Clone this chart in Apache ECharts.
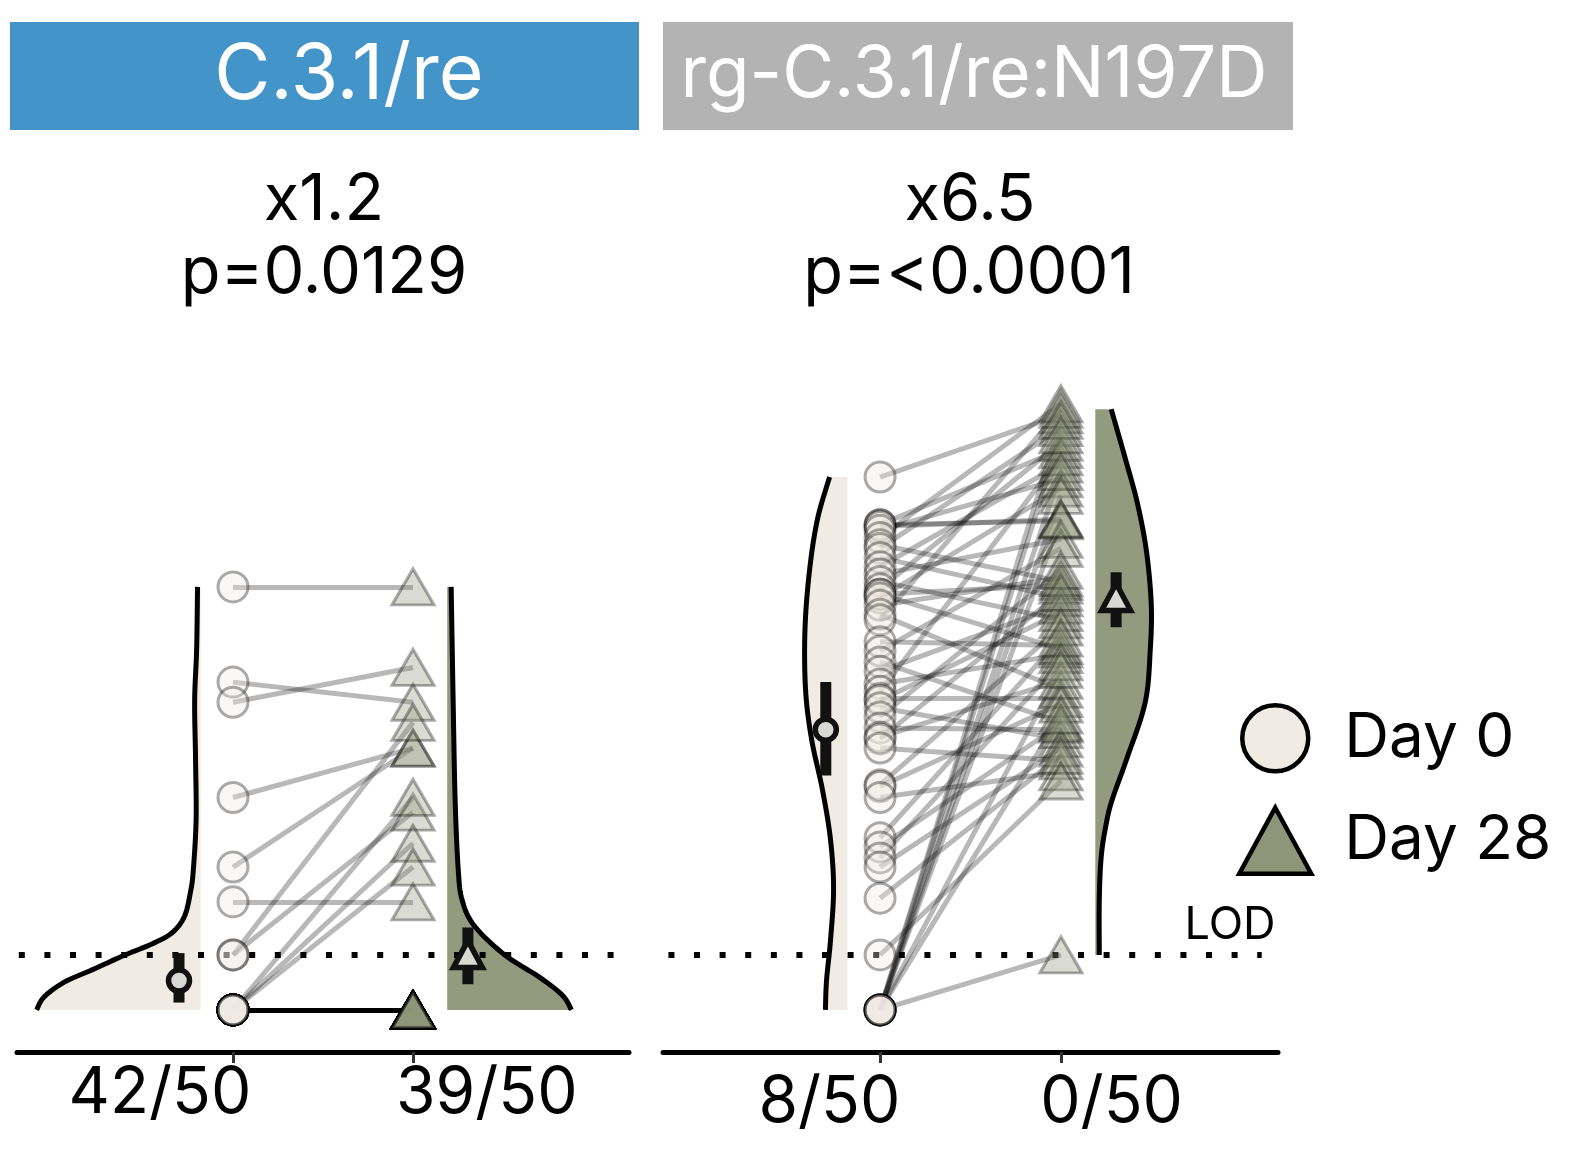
<!DOCTYPE html>
<html>
<head>
<meta charset="utf-8">
<script src="https://cdn.jsdelivr.net/npm/echarts@6/dist/echarts.min.js"></script>
<style>
html,body{margin:0;padding:0;background:#fff;overflow:hidden;}
#chart{width:1578px;height:1172px;}
</style>
</head>
<body>
<div id="chart"></div>
<script>
// ---------- DATA (log10 titer; 1.00 = below LOD, 1.30 = LOD) ----------
const LOD = 1.30;
const panelNames = ['C.3.1/re', 'rg-C.3.1/re:N197D'];
const foldChanges = ['x1.2', 'x6.5'];
const pValues = ['p=0.0129', 'p=<0.0001'];
const leftTickLabels = ['42/50', '39/50'];
const rightTickLabels = ['8/50', '0/50'];
const seriesNames = ['Day 0', 'Day 28'];

// paired samples, C.3.1/re
const leftDay0 = [3.31, 2.79, 2.68, 2.16, 1.78, 1.59, 1.30, 1.30, 1.00, 1.00, 1.00,
  1.00, 1.00, 1.00, 1.00, 1.00, 1.00, 1.00, 1.00, 1.00, 1.00,
  1.00, 1.00, 1.00, 1.00, 1.00, 1.00, 1.00, 1.00, 1.00, 1.00,
  1.00, 1.00, 1.00, 1.00, 1.00, 1.00, 1.00, 1.00, 1.00, 1.00,
  1.00, 1.00, 1.00, 1.00, 1.00, 1.00, 1.00, 1.00, 1.00];
const leftDay28 = [3.31, 2.68, 2.87, 2.43, 2.43, 1.59, 2.57, 2.08, 2.16, 1.91, 1.78,
  1.00, 1.00, 1.00, 1.00, 1.00, 1.00, 1.00, 1.00, 1.00, 1.00,
  1.00, 1.00, 1.00, 1.00, 1.00, 1.00, 1.00, 1.00, 1.00, 1.00,
  1.00, 1.00, 1.00, 1.00, 1.00, 1.00, 1.00, 1.00, 1.00, 1.00,
  1.00, 1.00, 1.00, 1.00, 1.00, 1.00, 1.00, 1.00, 1.00];

// paired samples, rg-C.3.1/re:N197D
const rightDay0 = [3.91, 3.65, 3.65, 3.64, 3.62, 3.58, 3.54, 3.52, 3.47, 3.42,
  3.38, 3.34, 3.30, 3.27, 3.27, 3.25, 3.21, 3.16, 3.13, 3.01,
  2.96, 2.90, 2.85, 2.78, 2.74, 2.70, 2.69, 2.65, 2.60, 2.54,
  2.49, 2.48, 2.43, 2.23, 2.22, 2.16, 1.94, 1.89, 1.83, 1.78,
  1.61, 1.30, 1.00, 1.00, 1.00, 1.00, 1.00, 1.00, 1.00, 1.00];
const rightDay28 = [4.25, 3.67, 4.06, 3.68, 3.90, 4.31, 3.34, 4.18, 3.25, 3.98,
  3.57, 3.13, 4.10, 3.32, 2.97, 3.85, 3.36, 2.75, 4.28, 2.99,
  3.52, 2.57, 3.21, 2.94, 4.02, 2.70, 3.17, 2.48, 3.40, 2.53,
  2.80, 3.28, 2.36, 3.09, 2.67, 2.30, 3.03, 2.56, 2.90, 2.43,
  2.39, 2.25, 4.22, 4.14, 3.94, 3.81, 3.68, 2.86, 2.61, 1.30];

// summary markers [Day 0, Day 28]
const leftMedian = [1.16, 1.29];
const leftQ1 = [1.04, 1.14];
const leftQ3 = [1.31, 1.45];
const rightMedian = [2.53, 3.24];
const rightQ1 = [2.28, 3.09];
const rightQ3 = [2.79, 3.39];

// half-violin density profiles: [log10 titer, half width]
const leftViolin0 = [[3.31,0.017],[2.97,0.022],[2.69,0.033],[2.37,0.028],[2.04,0.025],[1.77,0.04],[1.65,0.055],[1.51,0.09],[1.42,0.16],[1.36,0.27],[1.30,0.42],[1.22,0.60],[1.15,0.76],[1.07,0.87],[1.00,0.911]];
const leftViolin28 = [[3.31,0.022],[2.69,0.033],[2.15,0.044],[1.77,0.061],[1.60,0.083],[1.46,0.15],[1.30,0.32],[1.18,0.51],[1.08,0.64],[1.00,0.69]];
const rightViolin0 = [[3.91,0.099],[3.68,0.166],[3.40,0.21],[3.08,0.235],[2.75,0.232],[2.48,0.199],[2.20,0.138],[1.93,0.094],[1.66,0.077],[1.38,0.094],[1.16,0.116],[1.00,0.122]];
const rightViolin28 = [[4.28,0.088],[4.01,0.166],[3.77,0.232],[3.51,0.282],[3.22,0.309],[2.97,0.304],[2.68,0.276],[2.38,0.177],[2.15,0.094],[2.02,0.061],[1.84,0.033],[1.60,0.022],[1.30,0.022]];

// ---------- LAYOUT / STYLE ----------
const FONT = 'Inter';
const C0 = '#f0ebe3';
const C28 = '#8e9579';
const VIOLIN28 = '#949a7e';
const X0 = 1, X28 = 2;
const BASE0 = 0.82, BASE28 = 2.19;
const MARK0 = 0.70, MARK28 = 2.305;

function catmull(pts, n) {
  const out = [];
  for (let i = 0; i < pts.length - 1; i++) {
    const p0 = pts[Math.max(i - 1, 0)], p1 = pts[i], p2 = pts[i + 1], p3 = pts[Math.min(i + 2, pts.length - 1)];
    for (let k = 0; k < n; k++) {
      const s = k / n, s2 = s * s, s3 = s2 * s;
      const f = (a, b, c, d) => 0.5 * (2 * b + (-a + c) * s + (2 * a - 5 * b + 4 * c - d) * s2 + (-a + 3 * b - 3 * c + d) * s3);
      out.push([f(p0[0], p1[0], p2[0], p3[0]), f(p0[1], p1[1], p2[1], p3[1])]);
    }
  }
  out.push(pts[pts.length - 1]);
  return out;
}

function violin(g, profile, base, dir, fill) {
  return {
    type: 'custom', xAxisIndex: g, yAxisIndex: g, silent: true, z: 1,
    data: [[base, profile[0][0]]],
    renderItem: function (params, api) {
      const curve = catmull(profile.map(p => api.coord([base + dir * p[1], p[0]])), 10);
      const top = api.coord([base, profile[0][0]]);
      const bot = api.coord([base, profile[profile.length - 1][0]]);
      return {
        type: 'group', children: [
          { type: 'polygon', shape: { points: curve.concat([bot, top]) }, style: { fill: fill, stroke: null } },
          { type: 'polyline', shape: { points: curve }, style: { stroke: '#000', lineWidth: 5, fill: null } }
        ]
      };
    }
  };
}

function pairLines(g, d0, d28) {
  return {
    type: 'lines', coordinateSystem: 'cartesian2d', xAxisIndex: g, yAxisIndex: g, silent: true, z: 3,
    lineStyle: { color: '#000', opacity: 0.28, width: 5 },
    data: d0.map((v, i) => ({ coords: [[X0, v], [X28, d28[i]]] }))
  };
}

function points(g, name, x, vals, symbol, size, color) {
  return {
    type: 'scatter', name: name, xAxisIndex: g, yAxisIndex: g, silent: true, z: 4,
    symbol: symbol, symbolSize: size,
    itemStyle: { color: color, borderColor: '#000', borderWidth: 3, opacity: 0.33 },
    data: vals.map(v => [x, v])
  };
}

function markers(g, med, q1, q3) {
  return {
    type: 'custom', xAxisIndex: g, yAxisIndex: g, silent: true, z: 6,
    data: [[MARK0, med[0], q1[0], q3[0], 0], [MARK28, med[1], q1[1], q3[1], 1]],
    renderItem: function (params, api) {
      const x = api.value(0);
      const pm = api.coord([x, api.value(1)]);
      const pl = api.coord([x, api.value(2)]);
      const ph = api.coord([x, api.value(3)]);
      const kind = api.value(4);
      const bar = { type: 'rect', shape: { x: pm[0] - 5.5, y: ph[1], width: 11, height: pl[1] - ph[1] }, style: { fill: '#111' } };
      let mk;
      if (kind === 0) {
        mk = { type: 'circle', shape: { cx: pm[0], cy: pm[1], r: 10.5 }, style: { fill: '#d8d8d4', stroke: '#111', lineWidth: 5.5 } };
      } else {
        const w = 29, h = 27;
        mk = { type: 'polygon', shape: { points: [[pm[0], pm[1] - h * 0.6], [pm[0] + w / 2, pm[1] + h * 0.4], [pm[0] - w / 2, pm[1] + h * 0.4]] }, style: { fill: '#d8d9d0', stroke: '#111', lineWidth: 5.5, lineJoin: 'miter' } };
      }
      return { type: 'group', children: [bar, mk] };
    }
  };
}

function lodLine(g, x1, x2) {
  return {
    type: 'line', xAxisIndex: g, yAxisIndex: g, silent: true, z: 2, symbol: 'none',
    lineStyle: { color: '#000', width: 6, type: [6, 19.6] },
    data: [[x1, LOD], [x2, LOD]]
  };
}

function xAxisCfg(g, labels, labelPos, margin) {
  return {
    type: 'value', gridIndex: g, min: -0.2, max: 3.2,
    splitLine: { show: false },
    axisLine: { show: true, onZero: false, lineStyle: { color: '#000', width: 5 } },
    axisTick: { show: true, customValues: [X0, X28], length: 11, lineStyle: { color: '#333', width: 3 } },
    axisLabel: {
      show: true, customValues: labelPos, margin: margin,
      color: '#000', fontSize: 64, fontFamily: FONT,
      formatter: function (v) { return Math.abs(v - labelPos[0]) < 0.01 ? labels[0] : labels[1]; }
    }
  };
}
function yAxisCfg(g) {
  return { type: 'value', gridIndex: g, min: 0.77, max: 4.5, show: false, splitLine: { show: false } };
}

const chart = echarts.init(document.getElementById('chart'), null, { renderer: 'canvas' });
chart.setOption({
  backgroundColor: '#fff',
  animation: false,
  grid: [
    { left: 17, width: 612, top: 369, height: 683 },
    { left: 663, width: 615, top: 369, height: 683 }
  ],
  xAxis: [xAxisCfg(0, leftTickLabels, [0.594, 2.41], 10), xAxisCfg(1, rightTickLabels, [0.72, 2.28], 19)],
  yAxis: [yAxisCfg(0), yAxisCfg(1)],
  legend: {
    orient: 'vertical', left: 1237, top: 703, itemWidth: 72, itemHeight: 66, itemGap: 32,
    selectedMode: false, padding: 0,
    textStyle: { fontSize: 62, fontFamily: FONT, color: '#000', padding: [0, 0, 0, 28] },
    data: [
      { name: seriesNames[0], icon: 'circle', itemStyle: { color: C0, borderColor: '#000', borderWidth: 4.5, opacity: 1 } },
      { name: seriesNames[1], icon: 'triangle', itemStyle: { color: C28, borderColor: '#000', borderWidth: 4.5, opacity: 1 } }
    ]
  },
  graphic: [
    { type: 'rect', shape: { x: 10, y: 22, width: 629, height: 108 }, style: { fill: '#4394c8' }, silent: true },
    { type: 'rect', shape: { x: 663, y: 22, width: 630, height: 108 }, style: { fill: '#b3b3b3' }, silent: true },
    { type: 'text', x: 349, y: 76, style: { text: panelNames[0], font: '400 77px Inter', fill: '#fff', align: 'center', verticalAlign: 'middle' }, silent: true },
    { type: 'text', x: 974, y: 76, style: { text: panelNames[1], font: '400 71px Inter', fill: '#fff', align: 'center', verticalAlign: 'middle' }, silent: true },
    { type: 'text', x: 324, y: 200, style: { text: foldChanges[0], font: '400 65px Inter', fill: '#000', align: 'center', verticalAlign: 'middle' }, silent: true },
    { type: 'text', x: 324, y: 273, style: { text: pValues[0], font: '400 65px Inter', fill: '#000', align: 'center', verticalAlign: 'middle' }, silent: true },
    { type: 'text', x: 970, y: 200, style: { text: foldChanges[1], font: '400 65px Inter', fill: '#000', align: 'center', verticalAlign: 'middle' }, silent: true },
    { type: 'text', x: 969, y: 273, style: { text: pValues[1], font: '400 65px Inter', fill: '#000', align: 'center', verticalAlign: 'middle' }, silent: true },
    { type: 'text', x: 1230, y: 925, style: { text: 'LOD', font: '400 45px Inter', fill: '#000', align: 'center', verticalAlign: 'middle' }, silent: true }
  ],
  series: [
    violin(0, leftViolin0, BASE0, -1, C0),
    violin(0, leftViolin28, BASE28, 1, VIOLIN28),
    violin(1, rightViolin0, BASE0, -1, C0),
    violin(1, rightViolin28, BASE28, 1, VIOLIN28),
    lodLine(0, -0.19, 3.2),
    lodLine(1, -0.17, 3.11),
    pairLines(0, leftDay0, leftDay28),
    pairLines(1, rightDay0, rightDay28),
    points(0, seriesNames[0], X0, leftDay0, 'circle', 30, C0),
    points(0, seriesNames[1], X28, leftDay28, 'triangle', [42, 36], C28),
    points(1, seriesNames[0], X0, rightDay0, 'circle', 30, C0),
    points(1, seriesNames[1], X28, rightDay28, 'triangle', [42, 36], C28),
    markers(0, leftMedian, leftQ1, leftQ3),
    markers(1, rightMedian, rightQ1, rightQ3)
  ]
});
</script>
</body>
</html>
